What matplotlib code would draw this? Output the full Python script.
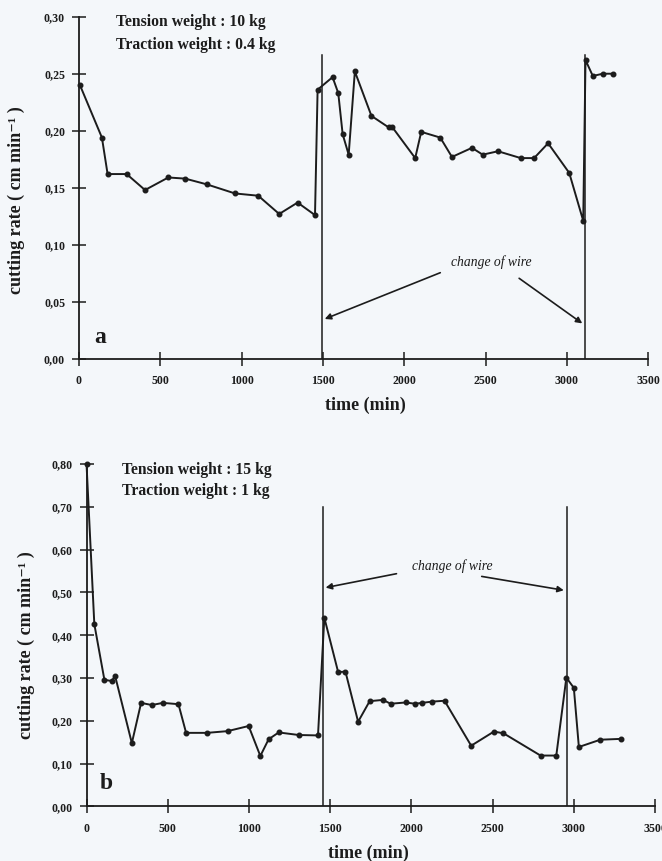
import matplotlib.pyplot as plt

plt.rcParams['font.family'] = ['Liberation Serif', 'DejaVu Serif']
plt.rcParams['font.weight'] = 'bold'

# panel a : tension 10 kg, traction 0.4 kg
time_a = [6, 141, 176, 293, 406, 549, 653, 785, 959, 1102, 1231, 1344, 1451,
          1467, 1559, 1594, 1621, 1658, 1696, 1798, 1903, 1927, 2067, 2104,
          2221, 2293, 2416, 2482, 2576, 2716, 2798, 2884, 3014, 3100,
          3114, 3159, 3220, 3284]
rate_a = [0.240, 0.194, 0.162, 0.162, 0.148, 0.159, 0.158, 0.153, 0.145, 0.143,
          0.127, 0.137, 0.126, 0.236, 0.247, 0.233, 0.197, 0.179, 0.252, 0.213,
          0.203, 0.203, 0.176, 0.199, 0.194, 0.177, 0.185, 0.179, 0.182, 0.176,
          0.176, 0.189, 0.163, 0.121, 0.262, 0.248, 0.250, 0.250]
wire_a = [1495, 3108]

# panel b : tension 15 kg, traction 1 kg
time_b = [0, 48, 110, 155, 176, 279, 336, 402, 470, 566, 613, 741, 868, 998,
          1070, 1121, 1183, 1306, 1425, 1464, 1549, 1594, 1672, 1743, 1825,
          1872, 1965, 2022, 2065, 2128, 2204, 2368, 2508, 2567, 2795, 2892,
          2954, 3000, 3031, 3163, 3293]
rate_b = [0.800, 0.426, 0.296, 0.293, 0.305, 0.148, 0.242, 0.237, 0.242, 0.239,
          0.172, 0.172, 0.176, 0.188, 0.118, 0.157, 0.173, 0.167, 0.166, 0.441,
          0.314, 0.315, 0.198, 0.246, 0.249, 0.240, 0.243, 0.240, 0.242, 0.245,
          0.247, 0.142, 0.175, 0.171, 0.119, 0.119, 0.301, 0.277, 0.139, 0.156,
          0.158]
wire_b = [1455, 2955]

xticks = [0, 500, 1000, 1500, 2000, 2500, 3000, 3500]
yticks_a = [0, 0.05, 0.10, 0.15, 0.20, 0.25, 0.30]
yticks_b = [0, 0.10, 0.20, 0.30, 0.40, 0.50, 0.60, 0.70, 0.80]

bg = '#f4f7fa'
ink = '#1c1c1c'

fig = plt.figure(figsize=(6.62, 8.61), dpi=100, facecolor=bg)
ax_a = fig.add_axes([0.1193, 0.5833, 0.860, 0.3973])
ax_b = fig.add_axes([0.1307, 0.0633, 0.8588, 0.3978])


def setup(ax, yticks, ymax):
    ax.set_facecolor(bg)
    ax.set_xlim(0, 3500)
    ax.set_ylim(0, ymax)
    for side in ['top', 'right']:
        ax.spines[side].set_visible(False)
    for side in ['left', 'bottom']:
        ax.spines[side].set_linewidth(1.3)
        ax.spines[side].set_color(ink)
    ax.set_xticks(xticks)
    ax.set_xticklabels([str(t) for t in xticks])
    ax.set_yticks(yticks)
    ax.set_yticklabels([('%.2f' % v).replace('.', ',') for v in yticks])
    ax.tick_params(direction='inout', length=10, width=1.1, colors=ink,
                   labelsize=8.6)
    ax.tick_params(axis='x', pad=7)
    ax.tick_params(axis='y', pad=5)


setup(ax_a, yticks_a, 0.30)
setup(ax_b, yticks_b, 0.80)

ax_a.plot(time_a, rate_a, '-o', color=ink, lw=1.4, ms=3.3, clip_on=False)
ax_b.plot(time_b, rate_b, '-o', color=ink, lw=1.4, ms=3.3, clip_on=False)

for t in wire_a:
    ax_a.plot([t, t], [0, 0.266], color=ink, lw=1.1)
for t in wire_b:
    ax_b.plot([t, t], [0, 0.70], color=ink, lw=1.1)

arrow = dict(arrowstyle='-|>', color=ink, lw=1.2, mutation_scale=9)

ax_a.text(2532, 0.0852, 'change of wire', style='italic', fontweight='normal',
          fontsize=9.8, ha='center', va='center', color=ink)
ax_a.annotate('', xy=(wire_a[0], 0.034), xytext=(2237, 0.0764), arrowprops=arrow)
ax_a.annotate('', xy=(wire_a[1], 0.0296), xytext=(2692, 0.072), arrowprops=arrow)

ax_b.text(2250, 0.561, 'change of wire', style='italic', fontweight='normal',
          fontsize=9.8, ha='center', va='center', color=ink)
ax_b.annotate('', xy=(wire_b[0], 0.51), xytext=(1925, 0.545), arrowprops=arrow)
ax_b.annotate('', xy=(wire_b[1], 0.504), xytext=(2416, 0.5385), arrowprops=arrow)

ax_a.text(227, 0.2957, 'Tension weight : 10 kg', fontsize=11.3, va='center', color=ink)
ax_a.text(227, 0.275, 'Traction weight : 0.4 kg', fontsize=11.3, va='center', color=ink)
ax_b.text(219, 0.786, 'Tension weight : 15 kg', fontsize=11.3, va='center', color=ink)
ax_b.text(219, 0.737, 'Traction weight : 1 kg', fontsize=11.3, va='center', color=ink)

ax_a.text(133, 0.0187, 'a', fontsize=17, ha='center', va='center', color=ink)
ax_b.text(123, 0.053, 'b', fontsize=17, ha='center', va='center', color=ink)

ylabel = 'cutting rate ( cm min\u207b\u00b9 )'
fig.text(16.7 / 662, 1 - 200 / 861, ylabel, rotation=90, fontsize=13,
         ha='center', va='center', color=ink)
fig.text(26 / 662, 1 - 645 / 861, ylabel, rotation=90, fontsize=13,
         ha='center', va='center', color=ink)
fig.text(365 / 662, 1 - 405 / 861, 'time (min)', fontsize=13,
         ha='center', va='center', color=ink)
fig.text(368 / 662, 1 - 853 / 861, 'time (min)', fontsize=13,
         ha='center', va='center', color=ink)

fig.savefig('out.png', dpi=100, facecolor=bg)
